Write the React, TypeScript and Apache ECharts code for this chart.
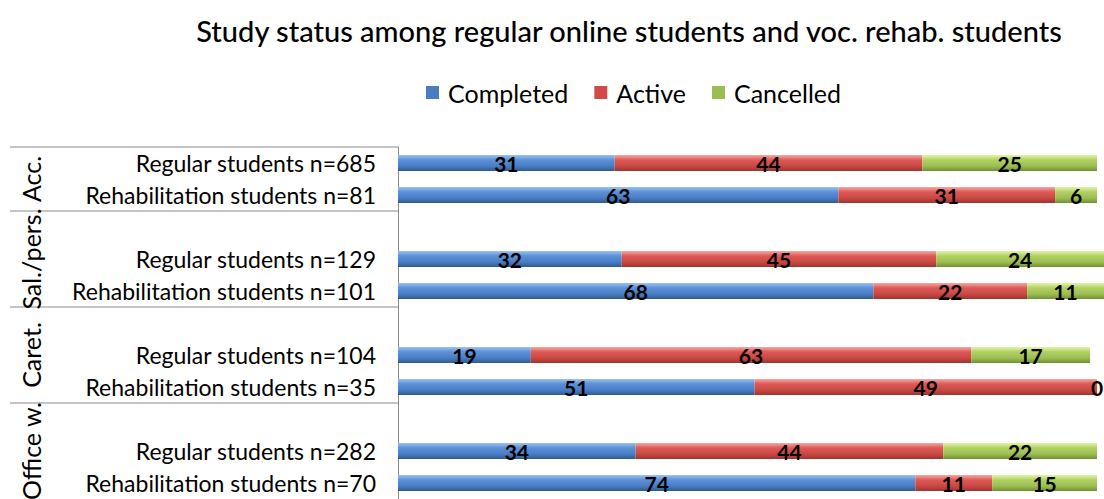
import React, { useEffect, useRef } from "react";
import * as echarts from "echarts";

const title = "Study status among regular online students and voc. rehab. students";
const seriesNames = ["Completed", "Active", "Cancelled"];
const groupNames = ["Acc.", "Sal./pers.", "Caret.", "Office w."];
const rowLabels = [
  "Regular students n=685",
  "Rehabilitation students n=81",
  "Regular students n=129",
  "Rehabilitation students n=101",
  "Regular students n=104",
  "Rehabilitation students n=35",
  "Regular students n=282",
  "Rehabilitation students n=70",
];
const completed = [31, 63, 32, 68, 19, 51, 34, 74];
const active = [44, 31, 45, 22, 63, 49, 44, 11];
const cancelled = [25, 6, 24, 11, 17, 0, 22, 15];

const FONT = "Lato, 'Noto Sans', sans-serif";

// insert a blank category before every group except the first
function withBlanks<T>(arr: T[], blank: (i: number) => T): T[] {
  const out: T[] = [];
  for (let g = 0; g < 4; g++) {
    if (g > 0) out.push(blank(g));
    out.push(arr[g * 2], arr[g * 2 + 1]);
  }
  return out;
}

const categories = withBlanks(rowLabels, (g) => " ".repeat(g));

function grad(c0: string, c1: string, c2: string, c3: string) {
  return new echarts.graphic.LinearGradient(0, 0, 0, 1, [
    { offset: 0, color: c0 },
    { offset: 0.3, color: c1 },
    { offset: 0.7, color: c2 },
    { offset: 1, color: c3 },
  ]);
}

const colors = [
  grad("#9cc2f0", "#5d92d8", "#4a7cc0", "#2e5a93"),
  grad("#f7a8a6", "#de5a56", "#c94743", "#9c3431"),
  grad("#e4f5a8", "#b2d165", "#9cbd52", "#718f34"),
];
const legendColors = ["#4a7cc0", "#d04b47", "#9cbd52"];

export default function App() {
  const ref = useRef<HTMLDivElement>(null);
  useEffect(() => {
    document.body.style.margin = "0";
    const chart = echarts.init(ref.current!, null, { renderer: "svg" });
    const data = [completed, active, cancelled];
    chart.setOption({
      animation: false,
      title: {
        text: title,
        left: 624,
        textAlign: "center",
        top: 11,
        textStyle: { fontFamily: FONT, fontSize: 29, fontWeight: 500, color: "#000" },
      },
      legend: {
        data: seriesNames.map((n, i) => ({ name: n, itemStyle: { color: legendColors[i] } })),
        top: 75,
        left: 421,
        icon: "rect",
        itemWidth: 13,
        itemHeight: 13,
        itemGap: 26,
        textStyle: { fontFamily: FONT, fontSize: 25, color: "#000", padding: [0, 0, 0, 4] },
      },
      grid: { left: 398, top: 147, width: 706, height: 356, containLabel: false },
      xAxis: { type: "value", min: 0, max: 101, show: false },
      yAxis: {
        type: "category",
        inverse: true,
        data: categories,
        axisLine: { show: true, lineStyle: { color: "#8a8a8a", width: 1 } },
        axisTick: { show: false },
        axisLabel: { fontFamily: FONT, fontSize: 23, color: "#000", margin: 22 },
      },
      series: seriesNames.map((n, i) => ({
        name: n,
        type: "bar",
        stack: "total",
        barWidth: 16,
        data: withBlanks(data[i] as (number | null)[], () => null),
        itemStyle: { color: colors[i] },
        label: {
          show: true,
          position: "inside",
          color: "#000",
          fontFamily: FONT,
          fontWeight: "bold",
          fontSize: 21,
        },
      })),
    });

    const py = (v: number) => {
      const a = chart.convertToPixel({ yAxisIndex: 0 }, Math.floor(v)) as number;
      const b = chart.convertToPixel({ yAxisIndex: 0 }, Math.floor(v) + 1) as number;
      return a + (b - a) * (v - Math.floor(v));
    };
    const bounds = [-0.5, 1.5, 4.5, 7.5, 10.5];
    const graphics: any[] = [];
    for (let k = 0; k < 4; k++) {
      const y = py(bounds[k]);
      graphics.push({
        type: "line",
        shape: { x1: 10, y1: y, x2: 398, y2: y },
        style: { stroke: "#8a8a8a", lineWidth: 1 },
      });
    }
    for (let g = 0; g < 4; g++) {
      const yc = (py(bounds[g]) + py(bounds[g + 1])) / 2;
      graphics.push({
        type: "text",
        x: 31,
        y: yc,
        rotation: Math.PI / 2,
        style: {
          text: groupNames[g],
          fontFamily: FONT,
          fontSize: 25,
          fill: "#000",
          align: "center",
          verticalAlign: "middle",
        },
      });
    }
    chart.setOption({ graphic: graphics });
    return () => chart.dispose();
  }, []);
  return <div ref={ref} style={{ width: 1104, height: 499 }} />;
}
